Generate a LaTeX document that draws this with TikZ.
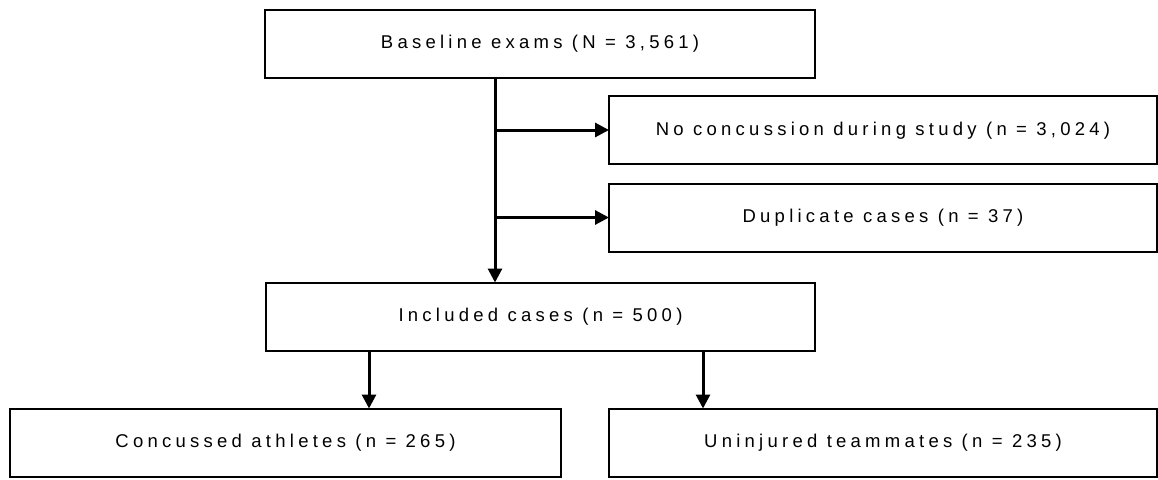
\documentclass[tikz,border=0pt]{standalone}
\usepackage{fontspec}
\setmainfont{Liberation Sans}
\newfontfamily\boxfont[LetterSpace=23]{Liberation Sans}
\usetikzlibrary{arrows.meta}
\tikzset{
  stagebox/.style={draw=black, line width=2pt, fill=white, inner sep=0pt, outer sep=0pt,
    minimum height=68pt, font=\boxfont\fontsize{18.5pt}{21pt}\selectfont,
    text height=1.05em, text depth=0pt, text=black},
  flowarrow/.style={draw=black, line width=3pt, -{Triangle[length=14pt,width=14pt]}}
}
\begin{document}
\begin{tikzpicture}[x=1pt,y=-1pt]
\useasboundingbox (0,0) rectangle (1158,479);
\node[stagebox, minimum width=550pt] (base) at (540,43.5) {Baseline exams (N = 3,561)};
\node[stagebox, minimum width=548pt] (nocon) at (883,130) {No concussion during study (n = 3,024)};
\node[stagebox, minimum width=548pt] (dup) at (883,217.5) {Duplicate cases (n = 37)};
\node[stagebox, minimum width=549pt] (incl) at (540.5,316.5) {Included cases (n = 500)};
\node[stagebox, minimum width=551pt] (conc) at (285.5,442.5) {Concussed athletes (n = 265)};
\node[stagebox, minimum width=548pt] (unin) at (883,442.5) {Uninjured teammates (n = 235)};
\coordinate (trunk) at (495,0);
\coordinate (leftdrop) at (369,0);
\coordinate (rightdrop) at (703,0);
\draw[flowarrow] (base.south -| trunk) -- (incl.north -| trunk);
\draw[flowarrow] (trunk |- nocon.west) -- (nocon.west);
\draw[flowarrow] (trunk |- dup.west) -- (dup.west);
\draw[flowarrow] (incl.south -| leftdrop) -- (conc.north -| leftdrop);
\draw[flowarrow] (incl.south -| rightdrop) -- (unin.north -| rightdrop);
\end{tikzpicture}
\end{document}
